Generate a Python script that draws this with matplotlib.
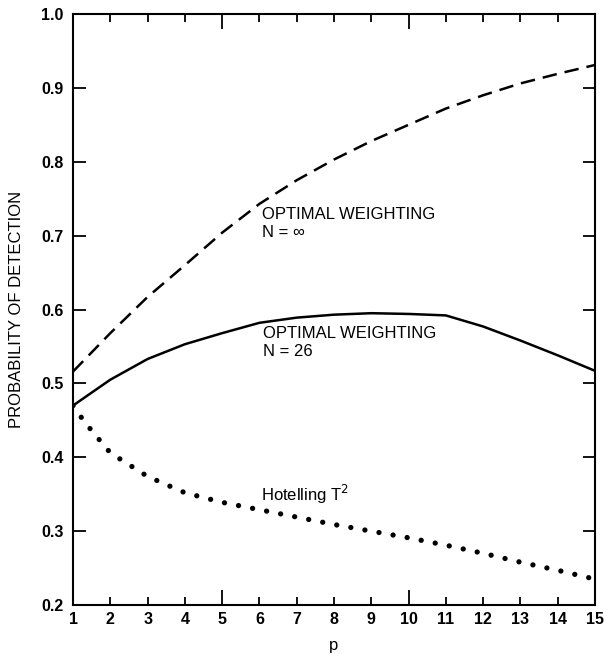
import matplotlib.pyplot as plt
from matplotlib.ticker import FixedLocator, MultipleLocator

plt.rcParams['font.family'] = ['Liberation Sans', 'DejaVu Sans']

# values
p = [1, 2, 3, 4, 5, 6, 7, 8, 9, 10, 11, 12, 13, 14, 15]
opt_inf = [0.516, 0.568, 0.617, 0.660, 0.704, 0.743, 0.775, 0.803, 0.828,
           0.850, 0.872, 0.890, 0.906, 0.919, 0.931]
opt_26 = [0.470, 0.505, 0.533, 0.553, 0.568, 0.582, 0.589, 0.593, 0.595,
          0.594, 0.592, 0.577, 0.558, 0.538, 0.517]
p_hot = [1, 1.25, 1.5, 2, 3, 4, 5, 6, 7, 8, 9, 10, 11, 12, 13, 14, 15]
hotelling = [0.470, 0.452, 0.436, 0.406, 0.374, 0.352, 0.339, 0.329, 0.319,
             0.309, 0.300, 0.291, 0.281, 0.270, 0.258, 0.247, 0.235]

fig = plt.figure(figsize=(6.04, 6.6), dpi=100)
ax = fig.add_axes([0.1209, 0.0833, 0.8642, 0.8955])

ax.plot(p, opt_inf, color='black', lw=1.8, linestyle=(0, (5.8, 3.2)))
ax.plot(p, opt_26, color='black', lw=1.8)
ax.plot(p_hot, hotelling, color='black', lw=3.8,
        linestyle=(0, (0.01, 2.7)), dash_capstyle='round')

# curve labels
ax.text(6.07, 0.739, 'OPTIMAL WEIGHTING\nN = \u221e', fontsize=12,
        va='top', ha='left', linespacing=1.3)
ax.text(6.1, 0.578, 'OPTIMAL WEIGHTING\nN = 26', fontsize=12,
        va='top', ha='left', linespacing=1.25)
ax.text(6.05, 0.341, 'Hotelling T$^2$', fontsize=12, va='baseline', ha='left')

ax.set_xlim(1, 15)
ax.set_ylim(0.2, 1.0)

# long ticks at 5 and 10, short ticks at every other integer
ax.xaxis.set_major_locator(FixedLocator([1, 5, 10, 15]))
ax.xaxis.set_minor_locator(MultipleLocator(1))
ax.xaxis.set_minor_formatter(plt.FuncFormatter(lambda v, pos: '%d' % v))
ax.yaxis.set_major_locator(MultipleLocator(0.1))
ax.yaxis.set_major_formatter(plt.FuncFormatter(lambda v, pos: '%.1f' % v))

ax.tick_params(axis='x', which='major', direction='in', length=11, width=1.3,
               top=True, pad=5, labelsize=11.5)
ax.tick_params(axis='x', which='minor', direction='in', length=6, width=1.3,
               top=True, pad=5, labelsize=11.5)
ax.tick_params(axis='y', which='major', direction='in', length=9, width=1.3,
               right=True, pad=7, labelsize=11.5)
for lab in ax.get_xticklabels(which='both') + ax.get_yticklabels():
    lab.set_fontweight('bold')

for s in ax.spines.values():
    s.set_linewidth(1.5)

ax.set_xlabel('p', fontsize=12, labelpad=8)
ax.set_ylabel('PROBABILITY OF DETECTION', fontsize=12, labelpad=12)

fig.savefig('out.png', dpi=100)
